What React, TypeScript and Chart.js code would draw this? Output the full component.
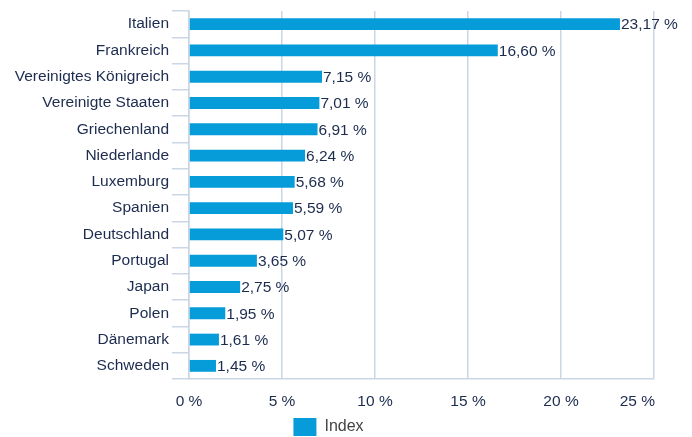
import React, { useEffect, useRef } from "react";
import { Chart, registerables } from "chart.js";

Chart.register(...registerables);

const categories: string[] = [
  "Italien",
  "Frankreich",
  "Vereinigtes Königreich",
  "Vereinigte Staaten",
  "Griechenland",
  "Niederlande",
  "Luxemburg",
  "Spanien",
  "Deutschland",
  "Portugal",
  "Japan",
  "Polen",
  "Dänemark",
  "Schweden",
];

const indexValues: number[] = [
  23.17, 16.6, 7.15, 7.01, 6.91, 6.24, 5.68, 5.59, 5.07, 3.65, 2.75, 1.95, 1.61, 1.45,
];

const seriesName = "Index";
const xMin = 0;
const xMax = 25;
const xStep = 5;

const NAVY = "#1c2b4e";
const BAR = "#069bd9";
const GRID = "#cbd6e5";
const FONT = "'Liberation Sans', Arial, Helvetica, sans-serif";
const FS = 15.5;

const fmt = (v: number) => v.toFixed(2).replace(".", ",") + " %";

const valueLabels = {
  id: "valueLabels",
  beforeDraw(chart: any) {
    // keep the last x tick label inside the plot's right edge (right aligned)
    const sx = chart.scales.x;
    const items = sx.getLabelItems();
    if (items && items.length) {
      const last = items[items.length - 1];
      last.options.textAlign = "right";
      last.options.translation = [sx.right + 1, last.options.translation[1]];
    }
  },
  afterDatasetsDraw(chart: any) {
    const ctx = chart.ctx;
    const meta = chart.getDatasetMeta(0);
    ctx.save();
    ctx.font = `${FS}px ${FONT}`;
    ctx.fillStyle = NAVY;
    ctx.textAlign = "left";
    ctx.textBaseline = "middle";
    meta.data.forEach((el: any, i: number) => {
      const v = chart.data.datasets[0].data[i];
      ctx.fillText(fmt(v), el.x + 1, el.y + 1);
    });
    ctx.restore();
  },
};

export default function App() {
  const ref = useRef<HTMLCanvasElement | null>(null);
  useEffect(() => {
    if (!ref.current) return;
    const chart = new Chart(ref.current, {
      type: "bar",
      data: {
        labels: categories,
        datasets: [
          {
            label: seriesName,
            data: indexValues,
            backgroundColor: BAR,
            borderWidth: 0,
            barPercentage: 0.9,
            categoryPercentage: 0.5,
          },
        ],
      },
      options: {
        indexAxis: "y",
        responsive: false,
        animation: false,
        layout: { padding: { left: 3, right: 38, top: 11, bottom: -9 } },
        plugins: {
          tooltip: { enabled: false },
          legend: {
            position: "bottom",
            align: "center",
            labels: {
              boxWidth: 23,
              boxHeight: 18,
              padding: 10,
              color: "#444444",
              font: { family: FONT, size: 16 },
            },
          },
        },
        scales: {
          x: {
            min: xMin,
            max: xMax,
            ticks: {
              stepSize: xStep,
              color: NAVY,
              padding: 13,
              maxRotation: 0,
              font: { family: FONT, size: FS },
              callback: (v: any) => `${v} %`,
            },
            grid: { color: GRID, drawTicks: false, lineWidth: 1.5 },
            border: { color: GRID, width: 1.5 },
            afterFit: (s: any) => {
              s.height = 29;
            },
          },
          y: {
            ticks: {
              color: NAVY,
              padding: 3,
              font: { family: FONT, size: FS, lineHeight: 1 },
            },
            grid: {
              offset: true,
              drawOnChartArea: false,
              drawTicks: true,
              tickLength: 17,
              color: GRID,
              lineWidth: 1.5,
            },
            border: { color: GRID, width: 1.5 },
            afterFit: (s: any) => {
              s.width = 186;
            },
          },
        },
      },
      plugins: [valueLabels],
    } as any);
    return () => chart.destroy();
  }, []);
  return (
    <div style={{ position: "absolute", left: 0, top: 0, width: 692, height: 437, background: "#fff" }}>
      <canvas ref={ref} width={692} height={437} style={{ display: "block" }} />
    </div>
  );
}
